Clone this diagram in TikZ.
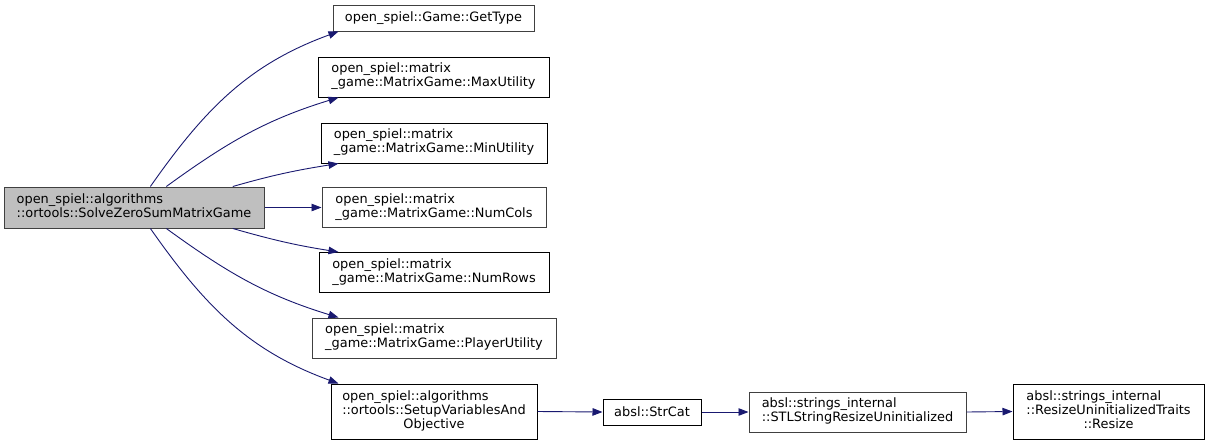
\documentclass[tikz,border=0pt]{standalone}
\usepackage{fontspec}
\setmainfont{DejaVu Sans}
\usetikzlibrary{arrows.meta}

\definecolor{edgeblue}{HTML}{191970}
\definecolor{mainfill}{HTML}{BFBFBF}
\definecolor{linkgray}{HTML}{404040}

% left aligned lines, last line centred
\newcommand{\dlabel}[2]{\begin{tabular}{@{}l@{}}#1\\\multicolumn{1}{@{}c@{}}{#2}\end{tabular}}

\begin{document}
\begin{tikzpicture}[
    x=1pt, y=1pt,
    fn/.style={draw=black, fill=white, line width=1pt, inner sep=0pt, align=center, font=\fontsize{12.9}{14}\selectfont},
    fnlink/.style={fn, draw=linkgray},
    fnmain/.style={fn, draw=linkgray, fill=mainfill},
    call/.style={-{Triangle[length=10pt,width=7.5pt]}, draw=edgeblue, line width=0.9pt}
]
\useasboundingbox (0,0) rectangle (1209,-445);

\node[fnmain, minimum width=260, minimum height=41] (main) at (134,-207.5) {\dlabel{open\_spiel::algorithms}{::ortools::SolveZeroSumMatrixGame}};

\node[fnlink, minimum width=201, minimum height=26] (gettype) at (433.5,-18) {open\_spiel::Game::GetType};
\node[fn, minimum width=231, minimum height=40] (maxutil) at (433.5,-77) {\dlabel{open\_spiel::matrix}{\_game::MatrixGame::MaxUtility}};
\node[fn, minimum width=226, minimum height=40] (minutil) at (434,-143) {\dlabel{open\_spiel::matrix}{\_game::MatrixGame::MinUtility}};
\node[fnlink, minimum width=224, minimum height=40] (numcols) at (434,-207.5) {\dlabel{open\_spiel::matrix}{\_game::MatrixGame::NumCols}};
\node[fn, minimum width=230, minimum height=40] (numrows) at (434,-272.5) {\dlabel{open\_spiel::matrix}{\_game::MatrixGame::NumRows}};
\node[fnlink, minimum width=244, minimum height=40] (playerutil) at (434,-338) {\dlabel{open\_spiel::matrix}{\_game::MatrixGame::PlayerUtility}};
\node[fn, minimum width=206, minimum height=55] (setup) at (434,-411.5) {\dlabel{open\_spiel::algorithms\\::ortools::SetupVariablesAnd}{Objective}};

\node[fn, minimum width=98, minimum height=26] (strcat) at (652,-412) {absl::StrCat};
\node[fnlink, minimum width=217, minimum height=40] (stlresize) at (857.5,-412) {\dlabel{absl::strings\_internal}{::STLStringResizeUninitialized}};
\node[fn, minimum width=191, minimum height=55] (resize) at (1108.5,-411.5) {\dlabel{absl::strings\_internal\\::ResizeUninitializedTraits}{::Resize}};

% calls from the solver
\draw[call] (main.52) to[out=55, in=200] ([xshift=6pt]gettype.south west);
\draw[call] (main.33) to[out=36, in=197] ([xshift=21pt]maxutil.south west);
\draw[call] (main.12) to[out=16, in=189] ([xshift=18pt]minutil.south west);
\draw[call] (main.east) -- (numcols.west);
\draw[call] (main.-12) to[out=-16, in=171] ([xshift=20pt]numrows.north west);
\draw[call] (main.-33) to[out=-36, in=163] ([xshift=27pt]playerutil.north west);
\draw[call] (main.-52) to[out=-55, in=160] ([xshift=8pt]setup.north west);

% chain below
\draw[call] (setup.east) -- (strcat.west);
\draw[call] (strcat.east) -- (stlresize.west);
\draw[call] (stlresize.east) -- (resize.west);

\end{tikzpicture}
\end{document}
